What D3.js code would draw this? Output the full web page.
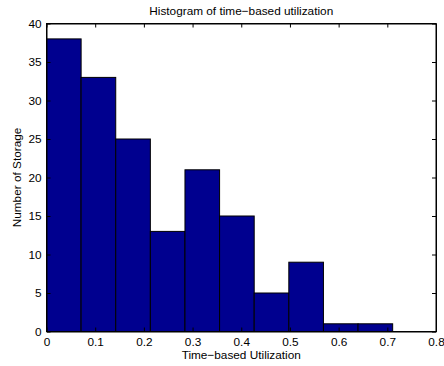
<!DOCTYPE html>
<html><head><meta charset="utf-8">
<script src="https://cdn.jsdelivr.net/npm/d3@7"></script>
<style>body{margin:0;background:#fff}svg{display:block}text{font-family:"Liberation Sans",Arial,sans-serif;fill:#000}</style>
</head><body>
<script>
const binEdges = [0, 0.0711, 0.1422, 0.2133, 0.2844, 0.3555, 0.4266, 0.4977, 0.5688, 0.6399, 0.711];
const counts = [38, 33, 25, 13, 21, 15, 5, 9, 1, 1];
const xTicks = [0, 0.1, 0.2, 0.3, 0.4, 0.5, 0.6, 0.7, 0.8];
const yTicks = [0, 5, 10, 15, 20, 25, 30, 35, 40];
const title = "Histogram of time\u2212based utilization";
const xTitle = "Time\u2212based Utilization";
const yTitle = "Number of Storage";

const W = 444, H = 366;
const L = 46.5, R = 436, T = 23.5, B = 331.5;
const FS = 11.8;
const svg = d3.select("body").append("svg").attr("width", W).attr("height", H);
const x = d3.scaleLinear().domain([0, 0.8]).range([L, R]);
const y = d3.scaleLinear().domain([0, 40]).range([B, T]);

const bins = counts.map((c, i) => ({x0: binEdges[i], x1: binEdges[i + 1], c}));
svg.append("g").selectAll("rect").data(bins).join("rect")
  .attr("x", d => x(d.x0)).attr("y", d => y(d.c))
  .attr("width", d => x(d.x1) - x(d.x0)).attr("height", d => y(0) - y(d.c))
  .attr("fill", "#00008F").attr("stroke", "#000").attr("stroke-width", 1);

const tl = 4;
const gx = svg.append("g").attr("transform", `translate(0,${B})`)
  .call(d3.axisBottom(x).tickValues(xTicks).tickFormat(d3.format("")).tickSizeInner(-tl).tickSizeOuter(0).tickPadding(6));
const gxt = svg.append("g").attr("transform", `translate(0,${T})`)
  .call(d3.axisTop(x).tickValues(xTicks).tickFormat("").tickSizeInner(-tl).tickSizeOuter(0));
const gy = svg.append("g").attr("transform", `translate(${L},0)`)
  .call(d3.axisLeft(y).tickValues(yTicks).tickSizeInner(-tl).tickSizeOuter(0).tickPadding(5));
const gyr = svg.append("g").attr("transform", `translate(${R},0)`)
  .call(d3.axisRight(y).tickValues(yTicks).tickFormat("").tickSizeInner(-tl).tickSizeOuter(0));
[gx, gxt, gy, gyr].forEach(g => {
  g.select(".domain").attr("stroke", "#000");
  g.selectAll("line").attr("stroke", "#000");
  g.selectAll("text").attr("font-size", FS).attr("font-family", '"Liberation Sans",Arial,sans-serif').attr("fill", "#000");
});
svg.append("rect").attr("x", L).attr("y", T).attr("width", R - L).attr("height", B - T)
  .attr("fill", "none").attr("stroke", "#000").attr("stroke-width", 1);

svg.append("text").attr("x", (L + R) / 2).attr("y", 15).attr("text-anchor", "middle").attr("font-size", FS).text(title);
svg.append("text").attr("x", (L + R) / 2).attr("y", 359).attr("text-anchor", "middle").attr("font-size", FS).text(xTitle);
svg.append("text").attr("transform", `translate(21,${(T + B) / 2}) rotate(-90)`).attr("text-anchor", "middle").attr("font-size", FS).text(yTitle);
</script>
</body></html>
